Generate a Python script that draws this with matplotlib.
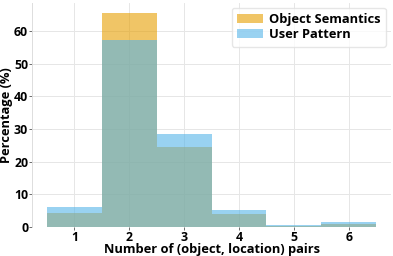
import numpy as np
import matplotlib.pyplot as plt

# pares (objeto, ubicación) por consulta
pares = [1, 2, 3, 4, 5, 6]
object_semantics = [4.3, 65.4, 24.5, 4.1, 0.2, 0.8]
user_pattern = [6.0, 57.3, 28.6, 5.1, 0.5, 1.4]

plt.rcParams['font.family'] = ['Open Sans', 'DejaVu Sans']
plt.rcParams['font.weight'] = 'bold'

fig = plt.figure(figsize=(3.93, 2.56), dpi=100)
ax = fig.add_axes([0.082, 0.113, 0.913, 0.877])

ax.bar(pares, object_semantics, width=1.0, color='#E69F00', alpha=0.6,
       label='Object Semantics', zorder=2)
ax.bar(pares, user_pattern, width=1.0, color='#56B4E9', alpha=0.6,
       label='User Pattern', zorder=3)

ax.set_xlim(0.23, 6.77)
ax.set_ylim(0, 68.7)
ax.set_xticks(pares)
ax.set_yticks([0, 10, 20, 30, 40, 50, 60])
ax.tick_params(axis='both', labelsize=8.8, length=2, width=0.6, color='#555555', pad=1)
for lab in ax.get_xticklabels() + ax.get_yticklabels():
    lab.set_fontweight('bold')

ax.grid(True, color='#e6e6e6', linewidth=0.7, zorder=0)
ax.set_axisbelow(True)
for lado in ['top', 'right', 'bottom']:
    ax.spines[lado].set_visible(False)
ax.spines['left'].set_color('#dddddd')
ax.spines['left'].set_linewidth(0.7)

ax.set_xlabel('Number of (object, location) pairs', fontsize=9.3, fontweight='bold', labelpad=-1)
ax.set_ylabel('Percentage (%)', fontsize=9.3, fontweight='bold', labelpad=1)

leg = ax.legend(loc='upper right', fontsize=9.3, frameon=True, handlelength=2.0,
                borderaxespad=0.4, labelspacing=0.2, handletextpad=0.5,
                borderpad=0.4)
leg.get_frame().set_edgecolor('#e0e0e0')
for t in leg.get_texts():
    t.set_fontweight('bold')

fig.savefig('out.png', dpi=100)
